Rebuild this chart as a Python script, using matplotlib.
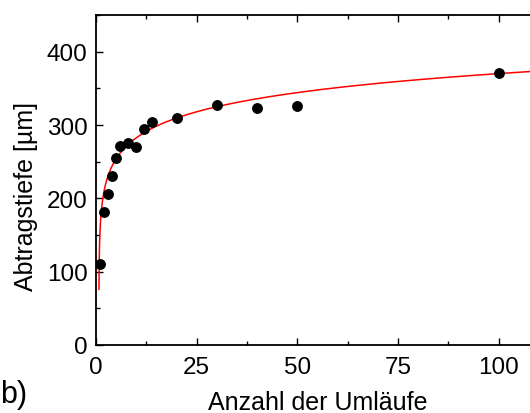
import numpy as np
import matplotlib
matplotlib.use("Agg")
import matplotlib.pyplot as plt
from matplotlib.ticker import MultipleLocator

plt.rcParams['font.family'] = ['Liberation Sans', 'DejaVu Sans']

# Measured ablation depth vs. number of passes
umlaeufe = [1, 2, 3, 4, 5, 6, 8, 10, 12, 14, 20, 30, 40, 50, 100]
abtragstiefe = [110, 182, 206, 231, 255, 271, 275, 270, 294, 304, 310, 327, 323, 326, 371]

# Logarithmic fit: y = A + B * ln(x - X0)
fit_a = 200.0
fit_b = 37.0
fit_x0 = 0.7

x_ticks = [0, 25, 50, 75, 100]
y_ticks = [0, 100, 200, 300, 400]

fig = plt.figure(figsize=(5.3, 4.14), dpi=100)
ax = fig.add_axes([0.1811, 0.1643, 0.836, 0.797])

xf = np.linspace(0.735, 110, 2000)
yf = fit_a + fit_b * np.log(xf - fit_x0)
ax.plot(xf, yf, color='#ff0000', lw=1.1, zorder=2)
ax.plot(umlaeufe, abtragstiefe, 'o', color='black', ms=6.8, zorder=3)

ax.set_xlim(0, 110)
ax.set_ylim(0, 450)
ax.set_xticks(x_ticks)
ax.set_yticks(y_ticks)
ax.xaxis.set_minor_locator(MultipleLocator(12.5))
ax.yaxis.set_minor_locator(MultipleLocator(50))

ax.tick_params(which='both', direction='in', top=True, right=False,
               labelsize=17.5, width=1.0, color='black', pad=6)
ax.tick_params(axis='x', which='both', pad=8)
ax.tick_params(which='major', length=5)
ax.tick_params(which='minor', length=3)
for side in ['left', 'bottom', 'top']:
    ax.spines[side].set_linewidth(1.3)
ax.spines['right'].set_visible(False)

ax.set_xlabel('Anzahl der Umläufe', fontsize=18)
ax.set_ylabel('Abtragstiefe [µm]', fontsize=18)
ax.xaxis.set_label_coords(0.5, -(391 - 346) / 330)
ax.yaxis.set_label_coords(-(96 - 38) / 443, (346 - 197) / 330)

fig.text(0.0, (414 - 403) / 414, 'b)', fontsize=22, ha='left', va='baseline')

fig.savefig('out.png', dpi=100)
